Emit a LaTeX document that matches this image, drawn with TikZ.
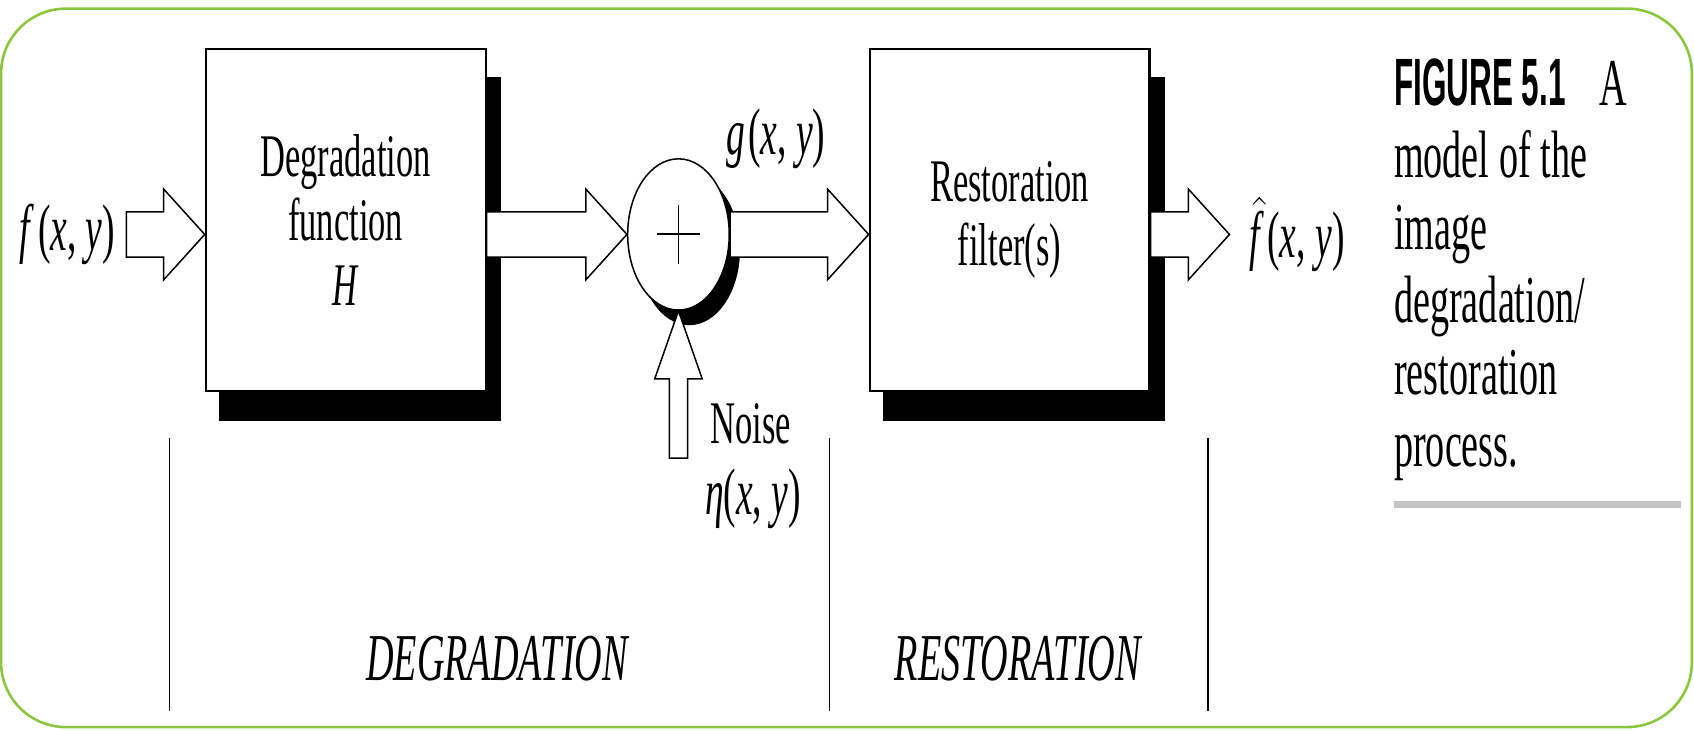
\documentclass[tikz,border=0pt]{standalone}
\usepackage{fontspec}
\setmainfont{Liberation Serif}[FakeStretch=0.57]
\newfontfamily\figsans{Liberation Sans}[FakeStretch=0.47]
\usetikzlibrary{shapes.geometric,backgrounds,calc}
\definecolor{framegreen}{HTML}{8CC63E}
\definecolor{rulegray}{HTML}{C4C4C4}

% hollow block arrows (tail, tip)
\newcommand{\hollowright}[2]{%
  \draw[hollow] let \p1=(#1), \p2=(#2) in
    (\x1,\y1+10.5pt) -- (\x2-19pt,\y1+10.5pt) -- (\x2-19pt,\y1+21pt) -- (\x2,\y1)
    -- (\x2-19pt,\y1-21pt) -- (\x2-19pt,\y1-10.5pt) -- (\x1,\y1-10.5pt) -- cycle;}
\newcommand{\hollowup}[2]{%
  \draw[hollow] let \p1=(#1), \p2=(#2) in
    (\x1-4.25pt,\y1) -- (\x1-4.25pt,\y2-31.5pt) -- (\x1-11pt,\y2-31.5pt) -- (\x1,\y2)
    -- (\x1+11pt,\y2-31.5pt) -- (\x1+4.25pt,\y2-31.5pt) -- (\x1+4.25pt,\y1) -- cycle;}

\begin{document}
\begin{tikzpicture}[
  x=0.5pt, y=-0.5pt,
  font=\fontsize{28}{30}\selectfont,
  blockbox/.style={
    draw,
    fill=white,
    line width=1pt,
    minimum width=129.5pt,
    minimum height=158.5pt,
    inner sep=0pt,
    align=center
  },
  sumnode/.style={
    ellipse,
    draw,
    fill=white,
    line width=0.7pt,
    minimum width=47pt,
    minimum height=70pt,
    inner sep=0pt
  },
  hollow/.style={
    draw,
    fill=white,
    line width=0.7pt,
    line join=miter
  },
  divline/.style={
    draw,
    line width=0.6pt
  },
  lbl/.style={inner sep=0pt},
  siglbl/.style={inner ysep=0pt, inner xsep=5pt, font=\fontsize{30.5}{32}\selectfont}
]
  \useasboundingbox (0,0) rectangle (1568,676);

  % -------------------------------------------------------------
  % FRAME
  % -------------------------------------------------------------
  \draw[framegreen, line width=1.2pt, rounded corners=30pt] (1,8) rectangle (1566,673);

  % -------------------------------------------------------------
  % BLOCKS
  % -------------------------------------------------------------
  \node[blockbox] (deg) at (320,203.5) {Degradation\\function\\\textit{H}};
  \node[blockbox] (res) at (934.5,203.5) {Restoration\\filter(s)};
  \node[sumnode] (sum) at (628,217) {};
  \draw[line width=0.9pt] (sum.center) ++(-20,0) -- ++(40,0);
  \draw[line width=0.9pt] (sum.center) ++(0,-27) -- ++(0,54);

  % shadows
  \begin{scope}[on background layer]
    \fill ([shift={(13,27)}]deg.south west) rectangle ([shift={(13,27)}]deg.north east);
    \fill ([shift={(13,27)}]res.south west) rectangle ([shift={(13,27)}]res.north east);
    \fill ([shift={(10,14)}]sum.center) ellipse [x radius=23.5pt, y radius=35pt];
  \end{scope}

  % -------------------------------------------------------------
  % SIGNAL LABELS
  % -------------------------------------------------------------
  \node[siglbl, anchor=east] (fin) at (117,217) {\textit{f}\kern1.5pt(\textit{x}, \textit{y})};
  \node[siglbl, anchor=west, inner xsep=9pt] (fout) at (1138,217) {$\hat{\mbox{\textit{f}\kern3pt}}$\kern-1.5pt(\textit{x}, \textit{y})};
  \node[siglbl] (glab) at (718,128) {\textit{g}\kern1.5pt(\textit{x}, \textit{y})};
  \node[lbl] (noise) at (695,392) {Noise};
  \node[siglbl] (eta) at (697,462) {\textit{η}(\textit{x}, \textit{y})};
  \coordinate (ntail) at (628,424);

  % -------------------------------------------------------------
  % ARROWS
  % -------------------------------------------------------------
  \hollowright{fin.east}{deg.west |- fin.east}
  \hollowright{deg.east |- sum.west}{sum.west}
  \hollowright{sum.east}{res.west |- sum.east}
  \hollowright{res.east |- fout.west}{fout.west}
  \hollowup{ntail}{sum.south}

  % -------------------------------------------------------------
  % STAGES
  % -------------------------------------------------------------
  \foreach \xx in {157,768,1118}
    \draw[divline] (\xx,405) -- (\xx,658);
  \node[lbl, font=\fontsize{31}{33}\selectfont\itshape] (degr) at (460,610) {DEGRADATION};
  \node[lbl, font=\fontsize{31}{33}\selectfont\itshape] (rest) at (942,610) {RESTORATION};

  % -------------------------------------------------------------
  % CAPTION
  % -------------------------------------------------------------
  \node[lbl, anchor=north west, align=left, font=\fontsize{31}{33.4}\selectfont] (cap) at (1290,54) {
    {\figsans\bfseries FIGURE 5.1}\enspace A\\
    model of the\\
    image\\
    degradation/\\
    restoration\\
    process.};
  \draw[rulegray, line width=3pt] (1290,467) -- (1556,467);

\end{tikzpicture}
\end{document}
